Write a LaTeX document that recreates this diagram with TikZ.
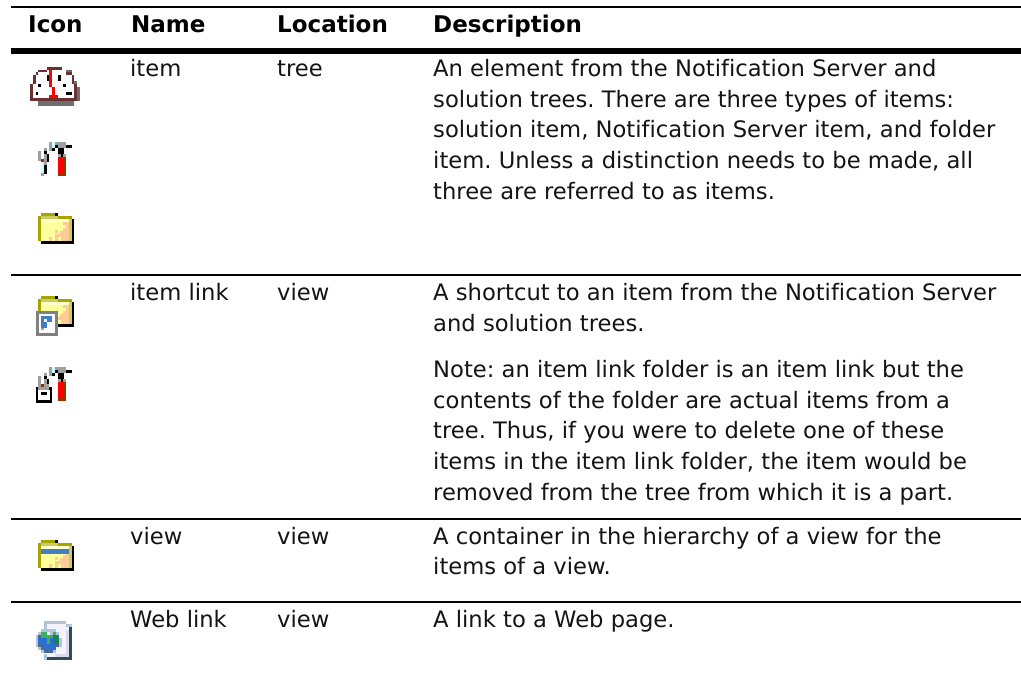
\documentclass[tikz,border=0pt]{standalone}
\usepackage{fontspec}
\setmainfont{DejaVu Sans}[Ligatures=NoCommon]
\AtBeginDocument{\frenchspacing}
\definecolor{ibrown}{HTML}{6B3030}
\definecolor{ishadow}{HTML}{6E6E6E}
\definecolor{iyel}{HTML}{FFFF9E}
\definecolor{ipale}{HTML}{FFFFCC}
\definecolor{ipeach}{HTML}{FFCC99}
\definecolor{iolive}{HTML}{A5A500}
\definecolor{iolivel}{HTML}{CCCC66}
\definecolor{iblue}{HTML}{3F7FC4}
\definecolor{igray}{HTML}{A0A0A0}
\definecolor{idgray}{HTML}{808080}
\definecolor{ihandle}{HTML}{993300}
\definecolor{icyan}{HTML}{CCFFFF}
\definecolor{islate}{HTML}{34495E}
\definecolor{ipage}{HTML}{B0C4D8}
\definecolor{ilav}{HTML}{F4F4FF}
\definecolor{ilavd}{HTML}{D8DCE8}
\definecolor{ghalo}{HTML}{B4C4DC}
\definecolor{gslate}{HTML}{4A6A96}
\definecolor{gblue}{HTML}{2A70D0}
\definecolor{ggreen}{HTML}{3FB05A}
\definecolor{gdgreen}{HTML}{1F8060}
\tikzset{
  hd/.style={anchor=base west,inner sep=0pt,font=\fontsize{23}{26}\selectfont\bfseries},
  tx/.style={anchor=base west,inner sep=0pt,font=\fontsize{22.65}{26}\selectfont,text=black!92},
  rul/.style={line width=2pt,line cap=butt},
  thickrul/.style={line width=5.7pt,line cap=butt}
}
% rectangle in zoomed (3x) coordinates
\newcommand{\Rr}[5]{\fill[#1] (#2/3,#3/3) rectangle (#4/3,#5/3);}
\newcommand{\folderbody}{%
  \Rr{black}{123}{720}{222}{732}\Rr{black}{213}{657}{222}{732}
  \Rr{iolive}{123}{639}{165}{648}\Rr{black}{165}{639}{174}{648}
  \Rr{iolive}{114}{648}{216}{657}\Rr{iolive}{114}{648}{123}{723}
  \Rr{iolivel}{123}{648}{174}{657}
  \Rr{iyel}{123}{657}{213}{723}
  \Rr{ipale}{123}{657}{213}{666}
  \Rr{iolivel}{207}{657}{216}{723}
}
\newcommand{\folderdither}{%
  \Rr{ipeach}{189}{666}{207}{675}\Rr{ipeach}{198}{675}{207}{684}\Rr{ipeach}{189}{684}{207}{693}
  \Rr{ipeach}{165}{690}{174}{699}\Rr{ipeach}{180}{693}{207}{702}\Rr{ipeach}{165}{702}{207}{711}
  \Rr{ipeach}{147}{711}{156}{723}\Rr{ipeach}{165}{711}{174}{723}\Rr{ipeach}{183}{711}{207}{723}
}
\newcommand{\toolhammer}{%
  \Rr{igray}{147}{426}{156}{453}\Rr{icyan}{156}{426}{165}{444}\Rr{igray}{165}{426}{198}{435}
  \Rr{igray}{174}{435}{198}{444}\Rr{black}{165}{435}{174}{444}\Rr{black}{156}{444}{165}{453}
  \Rr{black}{198}{435}{216}{444}\Rr{black}{174}{444}{192}{462}
  \Rr{igray}{174}{462}{198}{471}\Rr{black}{183}{462}{189}{471}
  \Rr{ihandle}{174}{471}{198}{528}\Rr{red}{174}{471}{189}{519}
}
\begin{document}
\begin{tikzpicture}[x=1pt,y=-1pt]
\useasboundingbox (0,0) rectangle (1021,684);
\fill[white] (0,0) rectangle (1021,684);
\coordinate (l0) at (11,6.7); \coordinate (r0) at (1021,6.7);
\coordinate (l1) at (11,51.2); \coordinate (r1) at (1021,51.2);
\coordinate (l2) at (11,274.8); \coordinate (r2) at (1021,274.8);
\coordinate (l3) at (11,519); \coordinate (r3) at (1021,519);
\coordinate (l4) at (11,602); \coordinate (r4) at (1021,602);
\draw[rul] (l0) -- (r0);
\draw[thickrul] (l1) -- (r1);
\draw[rul] (l2) -- (r2);
\draw[rul] (l3) -- (r3);
\draw[rul] (l4) -- (r4);
% header
\node[hd] (h1) at (28,32.7) {Icon};
\node[hd] (h2) at (131,32.7) {Name};
\node[hd] (h3) at (277,32.7) {Location};
\node[hd] (h4) at (433,32.7) {Description};
% row 1
\node[tx] (n1) at (130,76.7) {item};
\node[tx] (o1) at (277,76.7) {tree};
\node[tx] (d1) at (433,76.7) {An element from the Notification Server and};
\node[tx] (d2) at (433,107.3) {solution trees. There are three types of items:};
\node[tx] (d3) at (433,138) {solution item, Notification Server item, and folder};
\node[tx] (d4) at (433,168.7) {item. Unless a distinction needs to be made, all};
\node[tx] (d5) at (433,199.3) {three are referred to as items.};
% row 2
\node[tx] (n2) at (130,300.7) {item link};
\node[tx] (o2) at (277,300.7) {view};
\node[tx] (d6) at (433,300.7) {A shortcut to an item from the Notification Server};
\node[tx] (d7) at (433,331.4) {and solution trees.};
\node[tx] (d8) at (433,377.7) {Note: an item link folder is an item link but the};
\node[tx] (d9) at (433,408.4) {contents of the folder are actual items from a};
\node[tx] (d10) at (433,439) {tree. Thus, if you were to delete one of these};
\node[tx] (d11) at (433,469.7) {items in the item link folder, the item would be};
\node[tx] (d12) at (433,500.4) {removed from the tree from which it is a part.};
% row 3
\node[tx] (n3) at (130,544.3) {view};
\node[tx] (o3) at (277,544.3) {view};
\node[tx] (d13) at (433,544.3) {A container in the hierarchy of a view for the};
\node[tx] (d14) at (433,575) {items of a view.};
% row 4
\node[tx] (n4) at (130,627.3) {Web link};
\node[tx] (o4) at (277,627.3) {view};
\node[tx] (d15) at (433,627.3) {A link to a Web page.};
% gauge icon
\Rr{ishadow}{114}{301}{222}{318}\Rr{ishadow}{222}{262}{240}{303}\Rr{ishadow}{222}{243}{231}{262}\Rr{ishadow}{187}{211}{217}{220}
\Rr{white}{99}{225}{222}{295}\Rr{white}{114}{211}{199}{225}
\Rr{ibrown}{142}{202}{187}{211}\Rr{ibrown}{114}{211}{142}{217}\Rr{ibrown}{99}{225}{108}{253}\Rr{ibrown}{108}{217}{114}{225}
\Rr{ibrown}{199}{217}{217}{226}\Rr{ibrown}{217}{226}{222}{253}\Rr{ibrown}{90}{253}{99}{295}\Rr{ibrown}{222}{253}{231}{295}\Rr{ibrown}{90}{295}{231}{304}
\Rr{red}{147}{211}{157}{262}\Rr{red}{156}{262}{165}{285}\Rr{red}{147}{285}{175}{295}
\Rr{black}{142}{226}{148}{243}\Rr{black}{175}{226}{184}{243}\Rr{black}{114}{253}{123}{262}\Rr{black}{189}{253}{198}{262}\Rr{black}{108}{276}{114}{285}\Rr{black}{198}{276}{217}{285}
% tools icon
\toolhammer
\Rr{igray}{114}{453}{123}{471}\Rr{igray}{132}{444}{141}{453}\Rr{igray}{132}{462}{141}{495}\Rr{igray}{114}{471}{123}{483}
\Rr{black}{132}{453}{141}{462}\Rr{black}{141}{462}{147}{486}\Rr{ihandle}{123}{477}{132}{486}
\Rr{icyan}{123}{486}{132}{519}\Rr{igray}{123}{519}{132}{528}\Rr{black}{132}{495}{141}{522}
% folder icon
\folderbody\folderdither
% row 2: folder with shortcut badge
\begin{scope}[shift={(0,83)}]
\folderbody\folderdither
\end{scope}
\begin{scope}[shift={(0,260)}]
\Rr{idgray}{108}{153}{174}{228}\Rr{white}{117}{162}{165}{219}
\Rr{iblue}{123}{168}{156}{186}\Rr{iblue}{123}{186}{141}{204}\Rr{igray}{123}{204}{132}{210}\Rr{white}{132}{177}{141}{186}
\end{scope}
% row 2: tools with badge
\begin{scope}[shift={(0,225)}]
\toolhammer
\end{scope}
\begin{scope}[shift={(0,260)}]
\Rr{igray}{114}{348}{123}{372}\Rr{igray}{132}{339}{141}{348}\Rr{black}{132}{348}{141}{357}\Rr{igray}{132}{357}{141}{372}\Rr{black}{141}{357}{147}{381}
\Rr{igray}{114}{372}{147}{381}\Rr{ihandle}{123}{372}{132}{381}
\Rr{black}{108}{381}{156}{429}\Rr{white}{114}{390}{150}{420}\Rr{igray}{114}{381}{147}{390}\Rr{black}{123}{396}{141}{405}
\end{scope}
% row 3: view folder
\begin{scope}[shift={(0,327)}]
\folderbody\folderdither
\end{scope}
\begin{scope}[shift={(0,500)}]
\Rr{ipale}{123}{138}{207}{147}\Rr{iblue}{123}{147}{207}{162}
\end{scope}
% row 4: web page icon
\begin{scope}[shift={(0,500)}]
\Rr{ilav}{141}{372}{207}{471}
\Rr{ipage}{132}{363}{198}{372}\Rr{ipage}{132}{372}{141}{390}\Rr{ipage}{198}{372}{207}{381}\Rr{ghalo}{207}{372}{216}{381}
\Rr{islate}{207}{381}{216}{480}\Rr{islate}{141}{471}{216}{480}\Rr{ipage}{132}{462}{141}{480}
\Rr{ilavd}{198}{390}{207}{471}\Rr{ilavd}{165}{462}{207}{471}
\Rr{ghalo}{123}{387}{168}{396}\Rr{ghalo}{114}{396}{177}{405}\Rr{ghalo}{108}{405}{114}{441}\Rr{ghalo}{114}{441}{123}{450}\Rr{ghalo}{123}{450}{168}{459}\Rr{ghalo}{177}{414}{186}{441}
\Rr{gslate}{123}{396}{168}{450}\Rr{gslate}{114}{405}{177}{441}\Rr{gslate}{132}{450}{159}{459}
\Rr{ggreen}{123}{396}{168}{414}\Rr{white}{141}{396}{150}{405}\Rr{gdgreen}{159}{405}{177}{432}
\Rr{gblue}{114}{414}{159}{432}\Rr{gblue}{132}{432}{168}{450}\Rr{ggreen}{141}{414}{150}{432}\Rr{ghalo}{150}{396}{159}{405}
\end{scope}
\end{tikzpicture}
\end{document}
